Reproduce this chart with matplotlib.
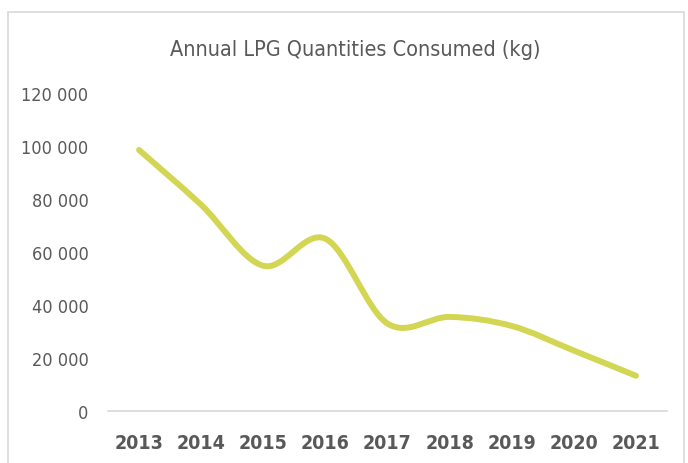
import numpy as np
import matplotlib
matplotlib.use("Agg")
import matplotlib.pyplot as plt
from matplotlib.path import Path
from matplotlib.patches import PathPatch, Rectangle
from matplotlib.ticker import FuncFormatter

years = ["2013", "2014", "2015", "2016", "2017", "2018", "2019", "2020", "2021"]
lpg_kg = [98500, 77800, 54800, 65000, 33000, 35500, 32100, 22800, 13300]

yticks = [0, 20000, 40000, 60000, 80000, 100000, 120000]

line_col = "#D3D653"
text_col = "#595959"
plt.rcParams["font.family"] = ["DejaVu Sans"]
plt.rcParams["font.stretch"] = "condensed"


def smooth_path(xs, ys):
    # Excel-style smoothed line: Catmull-Rom turned into cubic Bezier segments
    pts = np.column_stack([xs, ys]).astype(float)
    ext = np.vstack([pts[0], pts, pts[-1]])
    verts = [pts[0]]
    codes = [Path.MOVETO]
    for i in range(1, len(ext) - 2):
        p0, p1, p2, p3 = ext[i - 1], ext[i], ext[i + 1], ext[i + 2]
        verts += [p1 + (p2 - p0) / 6, p2 - (p3 - p1) / 6, p2]
        codes += [Path.CURVE4] * 3
    return Path(verts, codes)


fig = plt.figure(figsize=(6.88, 4.64), dpi=100)
fig.patches.append(Rectangle((8 / 688, -0.1), 676 / 688, 1.1 - 13 / 464,
                             transform=fig.transFigure, fill=False,
                             edgecolor="#D9D9D9", linewidth=1.2))

ax = fig.add_axes([108 / 688, 1 - 412 / 464, 559 / 688, 318 / 464])
x = np.arange(len(years))
ax.add_patch(PathPatch(smooth_path(x, lpg_kg), fill=False, edgecolor=line_col,
                       linewidth=4.3, capstyle="round", joinstyle="round"))

ax.set_xlim(-0.5, len(years) - 0.5)
ax.set_ylim(0, 120000)
ax.set_xticks(x)
ax.set_xticklabels(years, fontsize=14, fontweight="bold", color=text_col,
                   fontstretch="condensed")
ax.set_yticks(yticks)
ax.yaxis.set_major_formatter(FuncFormatter(lambda v, p: f"{v:,.0f}".replace(",", " ")))
for lab in ax.get_yticklabels():
    lab.set_fontsize(13)
    lab.set_color(text_col)
    lab.set_fontstretch("condensed")
ax.tick_params(length=0)
ax.tick_params(axis="y", pad=14)
ax.tick_params(axis="x", pad=16)
for s in ["top", "right", "left"]:
    ax.spines[s].set_visible(False)
ax.spines["bottom"].set_color("#D9D9D9")
ax.spines["bottom"].set_linewidth(1.2)

fig.text(355 / 688, 1 - 50 / 464, "Annual LPG Quantities Consumed (kg)",
         ha="center", va="center", fontsize=15.5, color=text_col,
         fontstretch="condensed")

fig.savefig("out.png", dpi=100)
